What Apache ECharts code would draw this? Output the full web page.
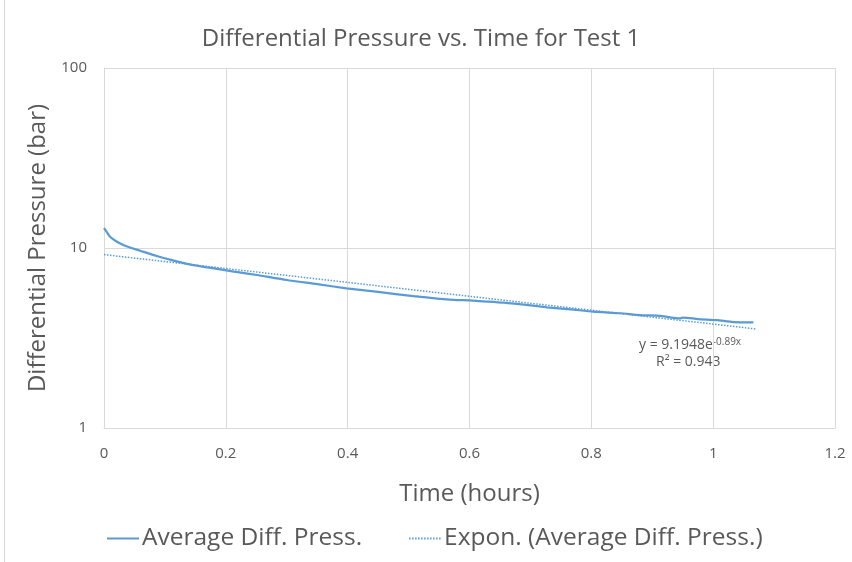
<!DOCTYPE html>
<html>
<head>
<meta charset="utf-8">
<style>
  html, body { margin: 0; padding: 0; background: #fff; }
  #chart { width: 852px; height: 562px; }
</style>
<script src="https://cdn.jsdelivr.net/npm/echarts@6/dist/echarts.min.js"></script>
</head>
<body>
<div id="chart"></div>
<script>
// Measured differential pressure over time (Test 1)
const timeHours = [0, 0.005, 0.0099, 0.02, 0.0317, 0.045, 0.059, 0.0865, 0.11, 0.141, 0.17, 0.196, 0.225, 0.251, 0.30, 0.35, 0.398, 0.45, 0.508, 0.574, 0.601, 0.617, 0.656, 0.70, 0.727, 0.766, 0.803, 0.848, 0.880, 0.913, 0.929, 0.946, 0.951, 0.975, 1.006, 1.033, 1.066];
const pressureBar = [12.9, 12.2, 11.55, 10.9, 10.39, 10.0, 9.66, 9.03, 8.6, 8.11, 7.8, 7.55, 7.3, 7.08, 6.64, 6.3, 5.97, 5.7, 5.41, 5.15, 5.12, 5.07, 4.97, 4.80, 4.68, 4.56, 4.43, 4.34, 4.24, 4.20, 4.12, 4.07, 4.11, 4.03, 3.97, 3.88, 3.86];

// Exponential trendline end points (straight on a log axis)
const trendTime = [0, 1.07];
const trendPressure = [9.19, 3.55];

const xTicks = [0, 0.2, 0.4, 0.6, 0.8, 1, 1.2];
const yTicks = [1, 10, 100];

const FONT = '"Open Sans", sans-serif';
const TEXT = '#595959';
const BLUE = '#5b9bd5';

const chart = echarts.init(document.getElementById('chart'), null, { renderer: 'canvas' });

chart.setOption({
  animation: false,
  backgroundColor: '#ffffff',
  textStyle: { fontFamily: FONT },
  title: {
    text: 'Differential Pressure vs. Time for Test 1',
    left: 416, top: 22, textAlign: 'center',
    textStyle: { fontFamily: FONT, fontSize: 24, fontWeight: 'normal', color: TEXT }
  },
  grid: { left: 104, right: 17, top: 68, bottom: 134, containLabel: false },
  legend: {
    bottom: 6, left: 101,
    itemWidth: 32, itemHeight: 12, itemGap: 46,
    itemStyle: { opacity: 0 },
    textStyle: { fontFamily: FONT, fontSize: 24.5, color: TEXT, padding: [0, 0, 0, -2] },
    data: ['Average Diff. Press.', 'Expon. (Average Diff. Press.)']
  },
  xAxis: {
    type: 'value', min: 0, max: 1.2, interval: 0.2,
    name: 'Time (hours)', nameLocation: 'middle', nameGap: 54,
    nameTextStyle: { fontFamily: FONT, fontSize: 24, color: TEXT },
    axisLine: { show: true, lineStyle: { color: '#d9d9d9', width: 1 } },
    axisTick: { show: false },
    axisLabel: {
      color: TEXT, fontFamily: FONT, fontSize: 15, margin: 18,
      formatter: v => { const t = xTicks.find(k => Math.abs(k - v) < 1e-9); return t === undefined ? '' : String(t); }
    },
    splitLine: { show: true, lineStyle: { color: '#d9d9d9', width: 1 } }
  },
  yAxis: {
    type: 'log', logBase: 10, min: yTicks[0], max: yTicks[yTicks.length - 1],
    name: 'Differential Pressure (bar)', nameLocation: 'middle', nameGap: 54, nameRotate: 90,
    nameTextStyle: { fontFamily: FONT, fontSize: 24, color: TEXT },
    axisLine: { show: true, lineStyle: { color: '#d9d9d9', width: 1 } },
    axisTick: { show: false },
    minorTick: { show: false },
    axisLabel: { color: TEXT, fontFamily: FONT, fontSize: 15, margin: 17 },
    splitLine: { show: true, lineStyle: { color: '#d9d9d9', width: 1 } }
  },
  series: [
    {
      name: 'Average Diff. Press.',
      type: 'line',
      data: timeHours.map((t, i) => [t, pressureBar[i]]),
      symbol: 'none',
      smooth: 0.2,
      lineStyle: { color: BLUE, width: 2.25 },
      itemStyle: { color: BLUE },
      z: 3
    },
    {
      name: 'Expon. (Average Diff. Press.)',
      type: 'line',
      data: trendTime.map((t, i) => [t, trendPressure[i]]),
      symbol: 'none',
      lineStyle: { color: BLUE, width: 1.5, type: [1.5, 1.5] },
      itemStyle: { color: BLUE },
      z: 4
    }
  ],
  graphic: [
    {
      type: 'line',
      shape: { x1: 4.5, y1: 0, x2: 4.5, y2: 562 },
      style: { stroke: '#d9d9d9', lineWidth: 1 }
    },
    {
      type: 'text',
      left: 639, top: 337,
      style: {
        text: '{b|y = 9.1948e}{s|-0.89x}',
        rich: {
          b: { fontFamily: FONT, fontSize: 14, fill: TEXT },
          s: { fontFamily: FONT, fontSize: 10, fill: TEXT, verticalAlign: 'top', padding: [0, 0, 7, 0] }
        }
      }
    },
    {
      type: 'text',
      left: 656, top: 355,
      style: { text: 'R² = 0.943', fontFamily: FONT, fontSize: 14, fill: TEXT }
    }
  ]
});
</script>
</body>
</html>
